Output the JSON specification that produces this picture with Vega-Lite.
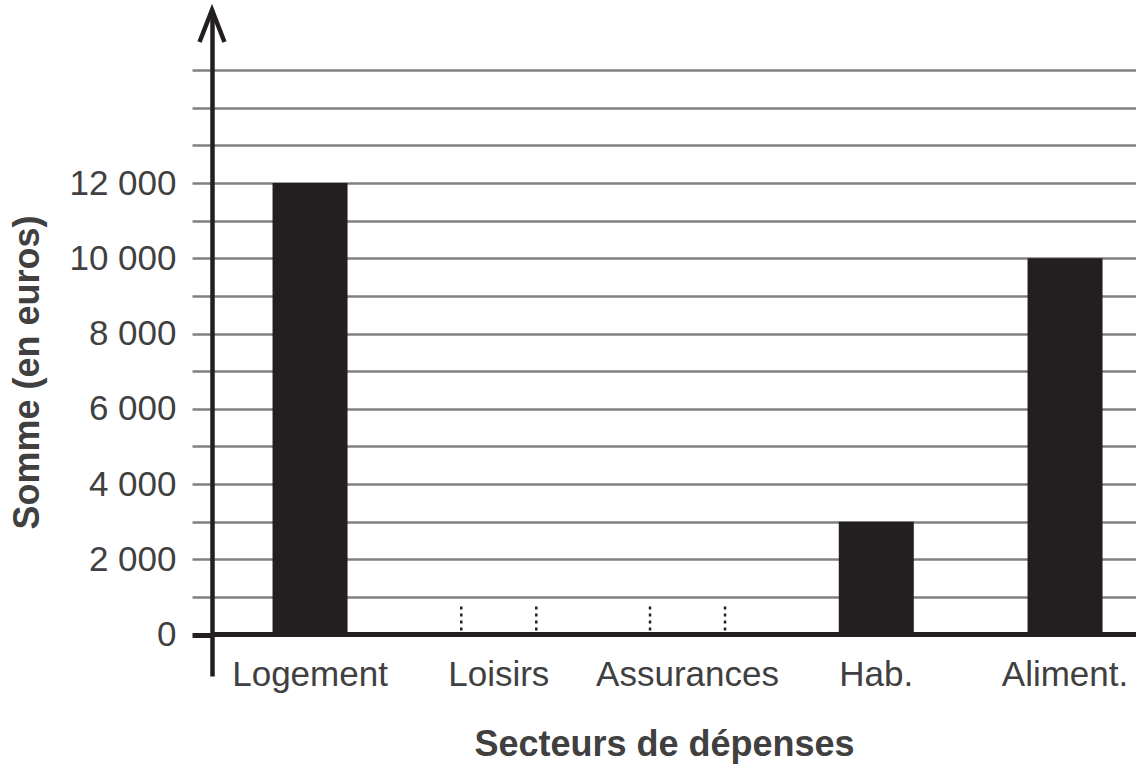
{
  "$schema": "https://vega.github.io/schema/vega-lite/v6.json",
  "width": 924,
  "height": 666,
  "autosize": {"type": "none"},
  "padding": {"left": 212, "top": 10, "right": 0, "bottom": 93},
  "background": "white",
  "config": {
    "view": {"stroke": null},
    "font": "Liberation Sans"
  },
  "datasets": {
    "depenses": [
      {"secteur": "Logement", "somme": 12000, "pointille": null},
      {"secteur": "Loisirs", "somme": null, "pointille": 750},
      {"secteur": "Assurances", "somme": null, "pointille": 750},
      {"secteur": "Hab.", "somme": 3000, "pointille": null},
      {"secteur": "Aliment.", "somme": 10000, "pointille": null}
    ],
    "fleche": [{"pos": 0, "haut": 16600}]
  },
  "resolve": {"scale": {"x": "independent"}, "axis": {"x": "independent"}},
  "layer": [
    {
      "layer": [
        {
          "data": {"name": "depenses"},
          "transform": [{"filter": "isValid(datum.somme)"}],
          "mark": {"type": "bar", "color": "#231f20"},
          "encoding": {
            "x": {
              "field": "secteur",
              "type": "nominal",
              "sort": null,
              "scale": {
                "domain": ["Logement", "Loisirs", "Assurances", "Hab.", "Aliment."],
                "paddingInner": 0.6026,
                "paddingOuter": 0.249,
                "align": 0.644
              },
              "axis": {
                "title": "Secteurs de dépenses",
                "titleFont": "Liberation Sans",
                "titleFontWeight": "bold",
                "titleFontSize": 36,
                "titleColor": "#404040",
                "titleX": 452,
                "titleY": 79,
                "titleBaseline": "alphabetic",
                "titleAlign": "center",
                "labelAngle": 0,
                "labelFont": "Liberation Sans",
                "labelFontSize": 35,
                "labelColor": "#404040",
                "labelBaseline": "alphabetic",
                "labelPadding": 9,
                "labelLimit": 400,
                "labelOverlap": false,
                "domain": false,
                "ticks": false,
                "tickSize": 0,
                "grid": false
              }
            },
            "y": {
              "field": "somme",
              "type": "quantitative",
              "scale": {"domain": [-1100, 16600], "nice": false, "zero": false},
              "axis": {
                "title": "Somme (en euros)",
                "titleFont": "Liberation Sans",
                "titleFontWeight": "bold",
                "titleFontSize": 36,
                "titleColor": "#404040",
                "titleAngle": -90,
                "titleX": -185,
                "titleY": 362,
                "titleAlign": "center",
                "titleBaseline": "middle",
                "values": [0, 1000, 2000, 3000, 4000, 5000, 6000, 7000, 8000, 9000, 10000, 11000, 12000, 13000, 14000, 15000],
                "labelExpr": "datum.value % 2000 === 0 && datum.value <= 12000 ? replace(format(datum.value, ','), ',', ' ') : ''",
                "labelFont": "Liberation Sans",
                "labelFontSize": 35,
                "labelColor": "#404040",
                "labelPadding": 16,
                "labelBaseline": "middle",
                "labelLimit": 400,
                "grid": true,
                "gridColor": "#808080",
                "gridWidth": 2.5,
                "gridOpacity": 1,
                "ticks": true,
                "tickSize": 20,
                "tickColor": {"condition": {"test": "datum.value === 0", "value": "#231f20"}, "value": "#808080"},
                "tickWidth": {"condition": {"test": "datum.value === 0", "value": 5}, "value": 2.5},
                "domain": true,
                "domainColor": "#231f20",
                "domainWidth": 4.5,
                "labelOverlap": false
              }
            }
          }
        },
        {
          "data": {"name": "depenses"},
          "transform": [{"filter": "isValid(datum.pointille)"}],
          "mark": {"type": "rule", "color": "#231f20", "strokeWidth": 2.5, "strokeDash": [3, 4]},
          "encoding": {
            "x": {"field": "secteur", "type": "nominal", "sort": null, "bandPosition": 0,
                  "scale": {"domain": ["Logement", "Loisirs", "Assurances", "Hab.", "Aliment."]}},
            "y": {"field": "pointille", "type": "quantitative"},
            "y2": {"datum": 0}
          }
        },
        {
          "data": {"name": "depenses"},
          "transform": [{"filter": "isValid(datum.pointille)"}],
          "mark": {"type": "rule", "color": "#231f20", "strokeWidth": 2.5, "strokeDash": [3, 4]},
          "encoding": {
            "x": {"field": "secteur", "type": "nominal", "sort": null, "bandPosition": 1,
                  "scale": {"domain": ["Logement", "Loisirs", "Assurances", "Hab.", "Aliment."]}},
            "y": {"field": "pointille", "type": "quantitative"},
            "y2": {"datum": 0}
          }
        },
        {
          "data": {"name": "depenses"},
          "transform": [{"filter": "datum.secteur === 'Logement'"}],
          "mark": {"type": "rule", "color": "#231f20", "strokeWidth": 5},
          "encoding": {
            "y": {"datum": 0, "type": "quantitative"}
          }
        }
      ]
    },
    {
      "data": {"name": "fleche"},
      "mark": {
        "type": "point",
        "shape": "M -0.39 1 L 0 0 L 0.39 1",
        "filled": false,
        "size": 4096,
        "stroke": "#231f20",
        "strokeWidth": 4.5,
        "strokeJoin": "miter",
        "opacity": 1
      },
      "encoding": {
        "x": {"field": "pos", "type": "quantitative", "scale": {"domain": [0, 1], "nice": false, "zero": false}, "axis": null},
        "y": {"field": "haut", "type": "quantitative"}
      }
    }
  ]
}
